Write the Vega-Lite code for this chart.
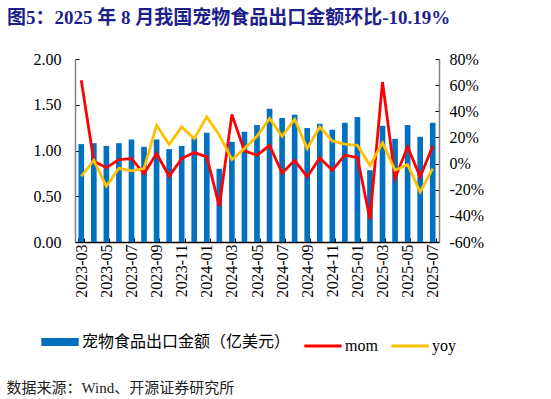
{
  "$schema": "https://vega.github.io/schema/vega-lite/v6.json",
  "width": 364,
  "height": 183,
  "autosize": {"type": "none"},
  "padding": {"left": 75, "top": 59, "right": 112, "bottom": 157},
  "background": "white",
  "config": {
    "view": {"stroke": null},
    "font": "Liberation Serif, Noto Sans CJK SC"
  },
  "title": {
    "text": "图5：2025 年 8 月我国宠物食品出口金额环比-10.19%",
    "anchor": "start",
    "frame": "group",
    "dx": -68,
    "offset": 23,
    "fontSize": 19,
    "fontWeight": "bold",
    "color": "#1F1F8C",
    "font": "Liberation Serif, Noto Sans CJK SC"
  },
  "data": {
    "values": [
      {"month": "2023-03", "amount": 1.07, "mom": 63.8, "yoy": -9.7},
      {"month": "2023-04", "amount": 1.08, "mom": 1.8, "yoy": 2.5},
      {"month": "2023-05", "amount": 1.05, "mom": -3.1, "yoy": -17.4},
      {"month": "2023-06", "amount": 1.08, "mom": 3.1, "yoy": -3.6},
      {"month": "2023-07", "amount": 1.12, "mom": 3.8, "yoy": -5.6},
      {"month": "2023-08", "amount": 1.04, "mom": -7.7, "yoy": -3.8},
      {"month": "2023-09", "amount": 1.12, "mom": 7.7, "yoy": 29.3},
      {"month": "2023-10", "amount": 1.015, "mom": -9.7, "yoy": 14.5},
      {"month": "2023-11", "amount": 1.05, "mom": 3.8, "yoy": 28.0},
      {"month": "2023-12", "amount": 1.135, "mom": 8.4, "yoy": 19.1},
      {"month": "2024-01", "amount": 1.194, "mom": 5.1, "yoy": 35.7},
      {"month": "2024-02", "amount": 0.80, "mom": -32.7, "yoy": 21.7},
      {"month": "2024-03", "amount": 1.095, "mom": 37.5, "yoy": 3.1},
      {"month": "2024-04", "amount": 1.205, "mom": 9.7, "yoy": 11.5},
      {"month": "2024-05", "amount": 1.278, "mom": 6.4, "yoy": 20.9},
      {"month": "2024-06", "amount": 1.457, "mom": 13.8, "yoy": 34.5},
      {"month": "2024-07", "amount": 1.355, "mom": -7.2, "yoy": 20.9},
      {"month": "2024-08", "amount": 1.391, "mom": 2.5, "yoy": 33.9},
      {"month": "2024-09", "amount": 1.245, "mom": -10.2, "yoy": 11.5},
      {"month": "2024-10", "amount": 1.292, "mom": 4.3, "yoy": 28.0},
      {"month": "2024-11", "amount": 1.227, "mom": -5.1, "yoy": 17.3},
      {"month": "2024-12", "amount": 1.303, "mom": 6.4, "yoy": 14.8},
      {"month": "2025-01", "amount": 1.365, "mom": 4.6, "yoy": 14.0},
      {"month": "2025-02", "amount": 0.785, "mom": -42.6, "yoy": -1.5},
      {"month": "2025-03", "amount": 1.27, "mom": 62.5, "yoy": 15.8},
      {"month": "2025-04", "amount": 1.128, "mom": -11.0, "yoy": -5.1},
      {"month": "2025-05", "amount": 1.278, "mom": 12.7, "yoy": -0.8},
      {"month": "2025-06", "amount": 1.15, "mom": -10.2, "yoy": -21.7},
      {"month": "2025-07", "amount": 1.303, "mom": 13.5, "yoy": -3.8}
    ]
  },
  "encoding": {
    "x": {
      "field": "month",
      "type": "ordinal",
      "sort": null,
      "scale": {"paddingInner": 0.55, "paddingOuter": 0.275},
      "axis": {
        "values": ["2023-03","2023-05","2023-07","2023-09","2023-11","2024-01","2024-03","2024-05","2024-07","2024-09","2024-11","2025-01","2025-03","2025-05","2025-07"],
        "labelAngle": -90,
        "labelAlign": "right",
        "labelBaseline": "middle",
        "labelFontSize": 16,
        "labelColor": "#000000",
        "labelPadding": 6,
        "tickBand": "extent",
        "tickSize": -4,
        "tickColor": "#000000",
        "domainColor": "#000000",
        "domainWidth": 1.5,
        "title": "数据来源：Wind、开源证券研究所",
        "titleFontSize": 15,
        "titleFontWeight": "normal",
        "titleColor": "#222222",
        "titleAnchor": "start",
        "titleAlign": "left",
        "titleBaseline": "middle",
        "titleX": -69,
        "titleY": 145,
        "titleFont": "Liberation Serif, Noto Sans CJK SC"
      }
    }
  },
  "layer": [
    {
      "mark": {"type": "bar", "color": "#0070C0"},
      "encoding": {
        "y": {
          "field": "amount",
          "type": "quantitative",
          "scale": {"domain": [0, 2]},
          "axis": {
            "values": [0, 0.5, 1, 1.5, 2],
            "format": ".2f",
            "title": null,
            "grid": false,
            "labelFontSize": 16,
            "labelColor": "#000000",
            "labelPadding": 18,
            "tickSize": -4,
            "tickColor": "#000000",
            "domainColor": "#808080",
            "domainWidth": 1.5
          }
        },
        "color": {"datum": "宠物食品出口金额（亿美元）", "type": "nominal"}
      }
    },
    {
      "transform": [{"fold": ["mom", "yoy"], "as": ["series", "pct"]}],
      "mark": {"type": "line", "strokeWidth": 2.8},
      "encoding": {
        "y": {
          "field": "pct",
          "type": "quantitative",
          "scale": {"domain": [-60, 80]},
          "axis": {
            "orient": "right",
            "values": [-60, -40, -20, 0, 20, 40, 60, 80],
            "labelExpr": "datum.value + '%'",
            "title": null,
            "grid": false,
            "labelFontSize": 16,
            "labelColor": "#000000",
            "labelPadding": 14,
            "tickSize": -4,
            "tickColor": "#000000",
            "domainColor": "#808080",
            "domainWidth": 1.5
          }
        },
        "color": {
          "field": "series",
          "type": "nominal",
          "scale": {
            "domain": ["宠物食品出口金额（亿美元）", "mom", "yoy"],
            "range": ["#0070C0", "#FF0000", "#FFC000"]
          },
          "legend": {
            "orient": "none",
            "legendX": -23,
            "legendY": 275,
            "direction": "horizontal",
            "title": null,
            "symbolType": "stroke",
            "symbolSize": 1400,
            "symbolStrokeWidth": 3,
            "labelFontSize": 16,
            "labelLimit": 400,
            "labelColor": "#000000",
            "labelOffset": 14,
            "columnPadding": 7,
            "labelFont": "Liberation Serif, Noto Sans CJK SC",
            "encode": {
              "symbols": {
                "update": {
                  "strokeWidth": {"signal": "datum.value === 'mom' || datum.value === 'yoy' ? 3 : 8"}
                }
              }
            }
          }
        }
      }
    }
  ],
  "resolve": {"scale": {"y": "independent"}}
}
